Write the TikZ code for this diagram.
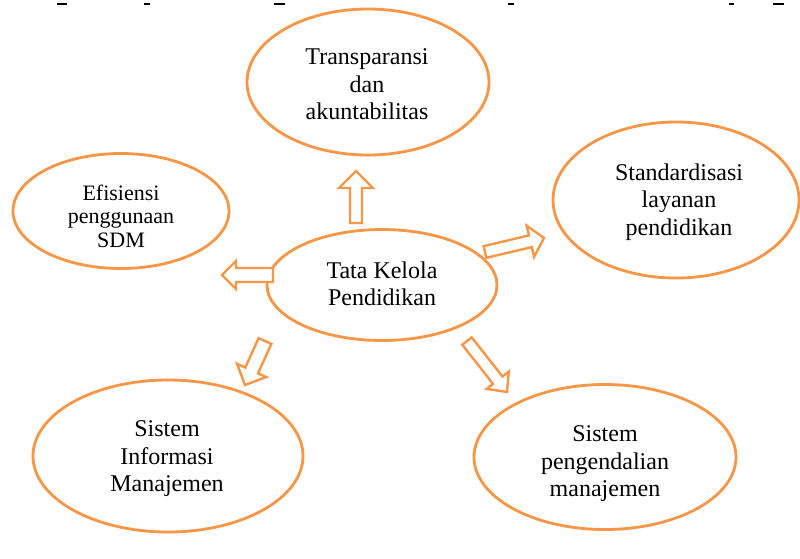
\documentclass[tikz,border=0pt]{standalone}
\usepackage{fontspec}
\setmainfont{Liberation Serif}
\usetikzlibrary{shapes.geometric,calc}
\definecolor{accor}{RGB}{247,150,70}
\tikzset{
  bub/.style={ellipse, draw=accor, line width=2.8pt, fill=white, inner sep=0pt},
  txt/.style={align=center, font=\fontsize{24}{27.5}\selectfont, inner sep=0pt},
  txts/.style={align=center, font=\fontsize{22}{23.5}\selectfont, inner sep=0pt},
  blockarr/.style={draw=accor, line width=2.4pt, fill=white, line join=miter},
  topmark/.style={fill=black}
}
\newcommand\hollowarrow[6]{%
  \coordinate (#3) at ($(#2)!#6!(#1)$);
  \draw[blockarr] ($(#1)!#4!90:(#2)$) -- ($(#3)!#4!90:(#2)$) -- ($(#3)!#5!90:(#2)$) -- (#2) -- ($(#3)!#5!-90:(#2)$) -- ($(#3)!#4!-90:(#2)$) -- ($(#1)!#4!-90:(#2)$) -- cycle;}
\begin{document}
\begin{tikzpicture}[x=1pt,y=-1pt]
\useasboundingbox (0,0) rectangle (800,558);
\fill[white] (0,0) rectangle (800,558);
% cut-off marks at the top edge
\fill[topmark] (57,3) rectangle (67,5);
\fill[topmark] (144,3) rectangle (150,5);
\fill[topmark] (274,3) rectangle (285,5);
\fill[topmark] (508,3) rectangle (514,5);
\fill[topmark] (729,3) rectangle (734,5);
\fill[topmark] (773,3) rectangle (784,5);
% ellipses
\node[bub, minimum width=242pt, minimum height=146pt] (T) at (368,82) {};
\node[bub, minimum width=246pt, minimum height=156pt] (S) at (676,200) {};
\node[bub, minimum width=216pt, minimum height=115pt] (E) at (121,211) {};
\node[bub, minimum width=230pt, minimum height=111pt] (C) at (382,285) {};
\node[bub, minimum width=270pt, minimum height=152pt] (BL) at (168,456) {};
\node[bub, minimum width=262pt, minimum height=145pt] (BR) at (605,457) {};
% texts
\node[txt] (Tt) at (367,84.3) {Transparansi\\dan\\akuntabilitas};
\node[txt] (St) at (679,201.9) {Standardisasi\\layanan\\pendidikan};
\node[txts] (Et) at (121,216) {Efisiensi\\penggunaan\\SDM};
\node[txt] (Ct) at (382,283.8) {Tata Kelola\\Pendidikan};
\node[txt] (BLt) at (167,458.9) {Sistem\\Informasi\\Manajemen};
\node[txt] (BRt) at (605,463.9) {Sistem\\pengendalian\\manajemen};
% hollow arrows
\coordinate (a1s) at (356,223); \coordinate (a1e) at (356,171);
\coordinate (a2s) at (485,252); \coordinate (a2e) at (544,238);
\coordinate (a3s) at (273,275); \coordinate (a3e) at (222,275);
\coordinate (a4s) at (265,341); \coordinate (a4e) at (245,385);
\coordinate (a5s) at (467,341); \coordinate (a5e) at (507,392);
\hollowarrow{a1s}{a1e}{a1b}{6pt}{17pt}{17pt}
\hollowarrow{a2s}{a2e}{a2b}{6pt}{16pt}{14pt}
\hollowarrow{a3s}{a3e}{a3b}{7pt}{14pt}{14pt}
\hollowarrow{a4s}{a4e}{a4b}{7pt}{16pt}{16pt}
\hollowarrow{a5s}{a5e}{a5b}{6pt}{14pt}{15pt}
\end{tikzpicture}
\end{document}
